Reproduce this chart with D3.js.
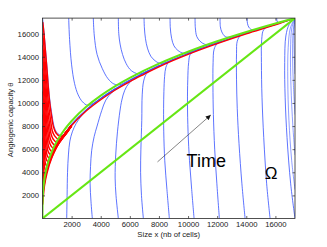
<!DOCTYPE html>
<html>
<head>
<meta charset="utf-8">
<script src="https://cdn.jsdelivr.net/npm/d3@7"></script>
<style>
  body { margin: 0; background: #fff; }
  text { font-family: "Liberation Sans", Arial, sans-serif; }
</style>
</head>
<body>
<div id="area_1"></div>
<script>
// axis range (equilibrium point x = theta)
var xMax = 17347
var yMax = 17347
var xTicks = [2000, 4000, 6000, 8000, 10000, 12000, 14000, 16000]
var yTicks = [2000, 4000, 6000, 8000, 10000, 12000, 14000, 16000]
var xLabel = "Size x (nb of cells)"
var yLabel = "Angiogenic capacity \u03b8"

// green: x-nullcline (diagonal) and theta-nullcline
var diagonal = [[0, 0], [17347, 17347]]
var nullcline = [[0, 0], [10, 1443], [50, 2468], [100, 3110], [200, 3918], [400, 4937], [700, 5949],
  [1000, 6700], [1500, 7669], [2000, 8441], [3000, 9663], [4000, 10636], [5000, 11457], [6000, 12175],
  [8000, 13400], [10000, 14435], [12000, 15339], [14000, 16148], [16000, 16883], [17347, 17347]]

// attracting band the trajectories run into
var blueBand = [[1500, 7300], [2000, 8150], [3000, 9400], [4000, 10380], [5000, 11220], [6000, 11950],
  [7000, 12600], [8000, 13220], [10000, 14280], [12000, 15200], [14000, 16040], [16000, 16800], [17347, 17347]]
var redBand = [[1300, 6950], [1500, 7200], [2000, 8050], [3000, 9300], [4000, 10280], [5000, 11120],
  [6000, 11850], [7000, 12500], [8000, 13130], [10000, 14200], [12000, 15130], [14000, 15980], [16000, 16760], [17347, 17347]]

// blue trajectories starting from the top
var blueTop = [
  [[3, 17347], [90, 16300], [300, 13300], [490, 10400], [660, 8900], [790, 8000], [980, 7450], [1250, 7220], [1500, 7300], [2000, 8150]],
  [[1800, 17347], [1860, 15500], [2000, 13300], [2200, 11700], [2450, 10700], [2750, 10100], [3100, 9800], [3600, 10050], [4200, 10600], [5000, 11250]],
  [[3490, 17347], [3560, 15800], [3750, 14200], [4100, 13000], [4500, 12100], [4900, 11650], [5300, 11580], [5800, 11870], [6500, 12320], [7300, 12820]],
  [[5210, 17347], [5240, 16000], [5330, 15100], [5500, 14200], [5750, 13400], [6100, 12800], [6600, 12520], [7200, 12760], [8000, 13260]],
  [[6976, 17347], [7000, 16500], [7070, 15600], [7210, 14750], [7440, 14050], [7740, 13650], [8100, 13420], [8600, 13560], [9500, 14030]],
  [[8763, 17347], [8780, 16500], [8870, 15600], [9030, 14950], [9300, 14550], [9700, 14300], [10200, 14430], [11000, 14800]],
  [[10481, 17347], [10500, 16500], [10600, 15750], [10820, 15350], [11150, 15080], [11600, 15050], [12300, 15380]],
  [[12199, 17347], [12220, 16600], [12320, 16150], [12550, 15750], [12900, 15700], [13400, 15830], [14200, 16130]],
  [[14055, 17347], [14080, 16900], [14180, 16550], [14400, 16330], [14800, 16420], [15500, 16650]],
  [[16096, 17347], [16110, 17100], [16200, 16950], [16600, 17070], [17347, 17347]]
]

// blue trajectories starting from the bottom
var blueBottom = [
  [[1663, 0], [1690, 2000], [1720, 4000], [1780, 5500], [1880, 6700], [2050, 7500], [2300, 8200], [2700, 8920], [3300, 9680]],
  [[3423, 0], [3330, 1500], [3270, 3000], [3300, 4500], [3380, 5900], [3550, 7100], [3750, 8000], [4070, 9350], [4350, 10250], [4800, 10950], [5500, 11500]],
  [[5210, 0], [5050, 2000], [4990, 3500], [5030, 5500], [5150, 7500], [5320, 9300], [5450, 10250], [5650, 11100], [5950, 11720], [6500, 12250], [7200, 12690]],
  [[6929, 0], [6800, 2000], [6740, 4000], [6760, 6000], [6820, 8500], [6850, 10700], [6950, 11900], [7150, 12550], [7500, 12860], [8200, 13290], [9000, 13730]],
  [[8716, 0], [8550, 2500], [8400, 5000], [8330, 7500], [8320, 9500], [8340, 11000], [8390, 12300], [8480, 13100], [8700, 13580], [9300, 13920], [10300, 14420]],
  [[10413, 0], [10250, 2500], [10100, 5000], [10000, 7500], [9960, 10000], [9980, 12000], [10040, 13500], [10150, 14200], [10450, 14450], [11200, 14840], [12000, 15200]],
  [[12152, 0], [11980, 3000], [11830, 6000], [11740, 9000], [11710, 11500], [11720, 13500], [11790, 14650], [12000, 15120], [12600, 15440], [13400, 15800]],
  [[13918, 0], [13700, 3000], [13500, 6500], [13380, 9500], [13330, 12000], [13330, 14300], [13380, 15350], [13600, 15830], [14300, 16160], [15200, 16500]],
  [[15636, 0], [15400, 3000], [15200, 7000], [15080, 10500], [15040, 13500], [15060, 15500], [15200, 16350], [15700, 16700], [16600, 17050]],
  [[17347, 0], [17050, 3000], [16800, 7000], [16670, 10500], [16640, 13500], [16720, 15800], [16950, 16800], [17347, 17347]]
]

// blue trajectories entering from the right edge
var blueRight = [
  [[17347, 2500], [17120, 5000], [16930, 8500], [16850, 12000], [16880, 14800], [17030, 16500], [17347, 17347]],
  [[17347, 5500], [17200, 8000], [17070, 11500], [17040, 14500], [17130, 16500], [17347, 17347]],
  [[17347, 9000], [17240, 11500], [17180, 14000], [17220, 16200], [17347, 17347]],
  [[17347, 12500], [17290, 14500], [17280, 16300], [17347, 17347]]
]

// red trajectories starting near x = 0
var redCurves = [
  [[15, 17000], [100, 16000], [290, 13100], [470, 10300], [630, 8800], [750, 7950], [930, 7400], [1200, 7130], [1500, 7200], [2000, 8050]],
  [[15, 16000], [86, 15090], [259, 12350], [421, 9800], [562, 8430], [670, 7600], [832, 7150], [1080, 6880], [1400, 7080], [2000, 8050]],
  [[15, 15000], [77, 14160], [230, 11640], [374, 9300], [499, 8040], [595, 7280], [739, 6860], [960, 6610], [1300, 6950], [2000, 8050]],
  [[15, 14000], [68, 13240], [204, 10940], [332, 8800], [442, 7650], [527, 6960], [655, 6580], [850, 6350], [1200, 6800], [2000, 8050]],
  [[15, 13000], [60, 12310], [180, 10240], [293, 8300], [390, 7260], [465, 6640], [578, 6300], [750, 6090], [1100, 6650], [2000, 8050]],
  [[15, 12000], [52, 11380], [156, 9520], [254, 7790], [338, 6860], [403, 6300], [501, 5990], [650, 5800], [1000, 6450], [2000, 8050]],
  [[12, 11000], [45, 10450], [134, 8810], [218, 7280], [291, 6450], [347, 5960], [431, 5690], [560, 5520], [900, 6250], [1600, 7350], [2000, 8050]],
  [[12, 10000], [38, 9520], [113, 8080], [183, 6740], [244, 6020], [291, 5590], [362, 5350], [470, 5210], [800, 6000], [1500, 7150], [2000, 8050]],
  [[10, 9000], [31, 8590], [94, 7360], [152, 6210], [203, 5590], [242, 5220], [300, 5020], [390, 4900], [700, 5750], [1400, 7000], [2000, 8050]],
  [[10, 8000], [25, 7650], [75, 6610], [121, 5640], [161, 5120], [192, 4810], [239, 4640], [310, 4540], [600, 5450], [1300, 6900], [2000, 8050]],
  [[8, 7000], [19, 6720], [58, 5870], [94, 5070], [125, 4650], [149, 4390], [185, 4250], [240, 4160], [500, 5100], [1200, 6750], [2000, 8050]],
  [[6, 6000], [15, 5780], [43, 5110], [70, 4490], [94, 4160], [112, 3960], [139, 3850], [180, 3780], [400, 4700], [1100, 6550], [2000, 8050]],
  [[5, 5000], [10, 4840], [30, 4340], [49, 3880], [65, 3630], [78, 3480], [96, 3400], [125, 3350], [300, 4300], [1000, 6350], [2000, 8050]],
  [[4, 4000], [7, 3890], [19, 3560], [31, 3240], [42, 3080], [50, 2980], [62, 2920], [80, 2890], [200, 3750], [900, 6150], [2000, 8050]],
  [[3, 2400], [20, 2300], [50, 2350], [120, 2950], [250, 3850], [500, 4900], [1000, 6250], [1600, 7300], [2000, 8050]],
  [[2, 1200], [15, 1300], [50, 1800], [130, 2800], [300, 3900], [650, 5300], [1200, 6700], [2000, 8050]]
]

// annotations
var timeArrow = [[7900, 4900], [11560, 8960]]
var timeText = {label: "Time", at: [9900, 4500]}
var omegaText = {label: "\u03a9", at: [15700, 3420]}

var width = 327
var height = 247

var svg = d3.select("#area_1")
  .append("svg")
  .attr("width", width)
  .attr("height", height)

var x = d3.scaleLinear().domain([0, xMax]).range([42.5, 295])
var y = d3.scaleLinear().domain([0, yMax]).range([218.5, 18.1])

var line = d3.line()
  .x(function (d) { return x(d[0]) })
  .y(function (d) { return y(d[1]) })
  .curve(d3.curveCatmullRom.alpha(0.5))

var defs = svg.append("defs")
defs.append("clipPath").attr("id", "plot-clip")
  .append("rect")
  .attr("x", x(0)).attr("y", y(yMax))
  .attr("width", x(xMax) - x(0)).attr("height", y(0) - y(yMax))

defs.append("marker")
  .attr("id", "arrowhead")
  .attr("viewBox", "0 0 10 10")
  .attr("refX", 10).attr("refY", 5)
  .attr("markerUnits", "userSpaceOnUse")
  .attr("markerWidth", 6).attr("markerHeight", 5)
  .attr("orient", "auto")
  .append("path")
  .attr("d", "M0,0 L10,5 L0,10 z")
  .attr("fill", "#111")

var plot = svg.append("g").attr("clip-path", "url(#plot-clip)")

// blue trajectories
var blue = plot.append("g")
  .attr("fill", "none")
  .attr("stroke", "#3550ff")
  .attr("stroke-width", 0.8)
blue.selectAll(".top").data(blueTop).enter().append("path").attr("d", line)
blue.selectAll(".bottom").data(blueBottom).enter().append("path").attr("d", line)
blue.selectAll(".right").data(blueRight).enter().append("path").attr("d", line).attr("stroke-opacity", 0.7)
blue.append("path").datum(blueBand).attr("d", line).attr("stroke-width", 1.2)

// red trajectories
var red = plot.append("g")
  .attr("fill", "none")
  .attr("stroke", "#ff0000")
  .attr("stroke-width", 1.5)
red.selectAll(".red").data(redCurves).enter().append("path").attr("d", line)
red.append("path").datum(redBand).attr("d", line).attr("stroke-width", 1.3)

// green nullclines
var green = plot.append("g")
  .attr("fill", "none")
  .attr("stroke", "#66e614")
  .attr("stroke-width", 2)
green.append("path").datum(diagonal).attr("d", line)
green.append("path").datum(nullcline).attr("d", line)

// time arrow and labels
svg.append("path")
  .datum(timeArrow)
  .attr("d", d3.line().x(function (d) { return x(d[0]) }).y(function (d) { return y(d[1]) }))
  .attr("stroke", "#333")
  .attr("stroke-width", 0.6)
  .attr("marker-end", "url(#arrowhead)")

svg.append("text")
  .attr("x", x(timeText.at[0])).attr("y", y(timeText.at[1]))
  .style("font-size", "18px")
  .attr("fill", "#000")
  .text(timeText.label)

svg.append("text")
  .attr("x", x(omegaText.at[0])).attr("y", y(omegaText.at[1]))
  .attr("text-anchor", "middle")
  .style("font-size", "17px")
  .attr("fill", "#000")
  .text(omegaText.label)

// axes, MATLAB style box with inward ticks
function styleAxis(g) {
  g.select(".domain").remove()
  g.selectAll("line").attr("stroke", "#262626").attr("stroke-width", 0.7)
  g.selectAll("text").attr("fill", "#1a1a1a").style("font-size", "7.7px")
    .style("font-family", "'Liberation Sans', Arial, sans-serif")
}

var fmt = d3.format("d")

svg.append("g")
  .attr("transform", "translate(0," + y(0) + ")")
  .call(d3.axisBottom(x).tickValues(xTicks).tickSize(-2.5).tickPadding(3.2).tickFormat(fmt))
  .call(styleAxis)
svg.append("g")
  .attr("transform", "translate(0," + y(yMax) + ")")
  .call(d3.axisTop(x).tickValues(xTicks).tickSize(-2.5).tickFormat(""))
  .call(styleAxis)
svg.append("g")
  .attr("transform", "translate(" + x(0) + ",0)")
  .call(d3.axisLeft(y).tickValues(yTicks).tickSize(-2.5).tickPadding(3.5).tickFormat(fmt))
  .call(styleAxis)
svg.append("g")
  .attr("transform", "translate(" + x(xMax) + ",0)")
  .call(d3.axisRight(y).tickValues(yTicks).tickSize(-2.5).tickFormat(""))
  .call(styleAxis)

svg.append("rect")
  .attr("x", x(0)).attr("y", y(yMax))
  .attr("width", x(xMax) - x(0)).attr("height", y(0) - y(yMax))
  .attr("fill", "none")
  .attr("stroke", "#262626")
  .attr("stroke-width", 0.8)

svg.append("text")
  .attr("x", (x(0) + x(xMax)) / 2).attr("y", 237)
  .attr("text-anchor", "middle")
  .style("font-size", "7.7px")
  .attr("fill", "#1a1a1a")
  .text(xLabel)

svg.append("text")
  .attr("transform", "translate(13," + ((y(0) + y(yMax)) / 2 + 1.5) + ") rotate(-90)")
  .attr("text-anchor", "middle")
  .style("font-size", "7.7px")
  .attr("fill", "#1a1a1a")
  .text(yLabel)
</script>
</body>
</html>
